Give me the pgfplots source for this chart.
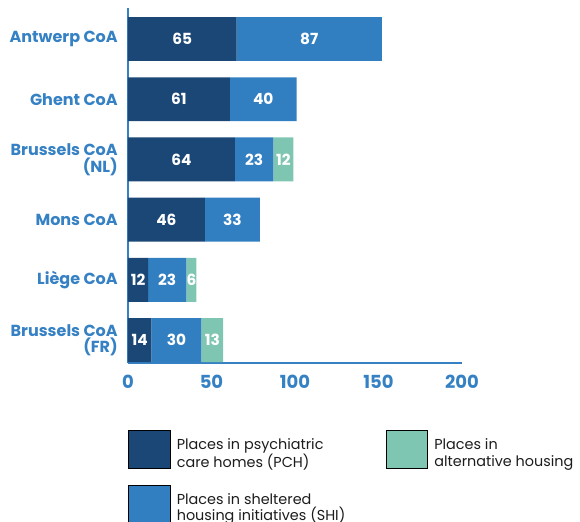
\documentclass[border=0pt]{standalone}
\usepackage{pgfplots}
\pgfplotsset{compat=1.18}
\usepackage{fontspec}
\setmainfont{Poppins}

\definecolor{pch}{HTML}{1A4775}
\definecolor{shi}{HTML}{317EC1}
\definecolor{alt}{HTML}{7FC6B2}
\definecolor{labblue}{HTML}{3581C4}
\definecolor{legtext}{HTML}{1C1C1C}

\begin{document}
\begin{tikzpicture}
\begin{axis}[
  xbar stacked,
  scale only axis,
  width=250.5pt, height=266.25pt,
  xmin=0, xmax=200,
  ymin=-0.515, ymax=5.38,
  y dir=reverse,
  bar width=0.73,
  ytick={0,1,2,3,4,5},
  yticklabels={Antwerp CoA, Ghent CoA, {Brussels CoA\\(NL)}, Mons CoA, Liège CoA, {Brussels CoA\\(FR)}},
  yticklabel style={align=right, font=\bfseries\fontsize{12}{12.5}\selectfont, text=labblue, inner sep=0pt, xshift=-7.5pt},
  xtick={0,50,100,150,200},
  xticklabel style={font=\bfseries\fontsize{13.5}{14}\selectfont, text=labblue, inner sep=0pt, yshift=-9pt},
  /pgf/number format/assume math mode=true,
  axis x line=bottom, axis y line=left,
  axis line style={-, draw=labblue, line width=1.5pt},
  major tick length=0pt,
  visualization depends on=rawx\as\rawx,
  nodes near coords={\ifdim\rawx pt>0.5pt\pgfmathprintnumber{\rawx}\fi},
  every node near coord/.append style={anchor=center, text=white, font=\bfseries\fontsize{11.5}{12}\selectfont},
  legend image code/.code={\fill[#1] (0pt,-14pt) rectangle (31pt,14pt);},
  legend columns=2,
  legend style={at={(0,-0.189)}, anchor=north west, draw=none, fill=none, inner sep=0pt,
    font=\fontsize{10.8}{12.5}\selectfont, text=legtext,
    nodes={inner sep=0pt, anchor=west},
    /tikz/column 2/.style={column sep=26.75pt},
    /tikz/every odd column/.append style={column sep=5pt},
    /tikz/row sep=12.5pt},
]
\addplot[fill=pch, draw=none, forget plot] coordinates {(65,0) (61,1) (64,2) (46,3) (12,4) (14,5)};
\addplot[fill=shi, draw=none, forget plot] coordinates {(87,0) (40,1) (23,2) (33,3) (23,4) (30,5)};
\addplot[fill=alt, draw=none, forget plot] coordinates {(0,0) (0,1) (12,2) (0,3) (6,4) (13,5)};
\addlegendimage{fill=pch}
\addlegendentry{\parbox{130pt}{Places in psychiatric\\care homes (PCH)}}
\addlegendimage{fill=alt}
\addlegendentry{\parbox{130pt}{Places in\\alternative housing}}
\addlegendimage{fill=shi}
\addlegendentry{\parbox{130pt}{Places in sheltered\\housing initiatives (SHI)}}
\end{axis}
\pgfresetboundingbox
\path[use as bounding box] (-96pt,-118.5pt) rectangle (339pt,272.25pt);
\end{tikzpicture}
\end{document}
